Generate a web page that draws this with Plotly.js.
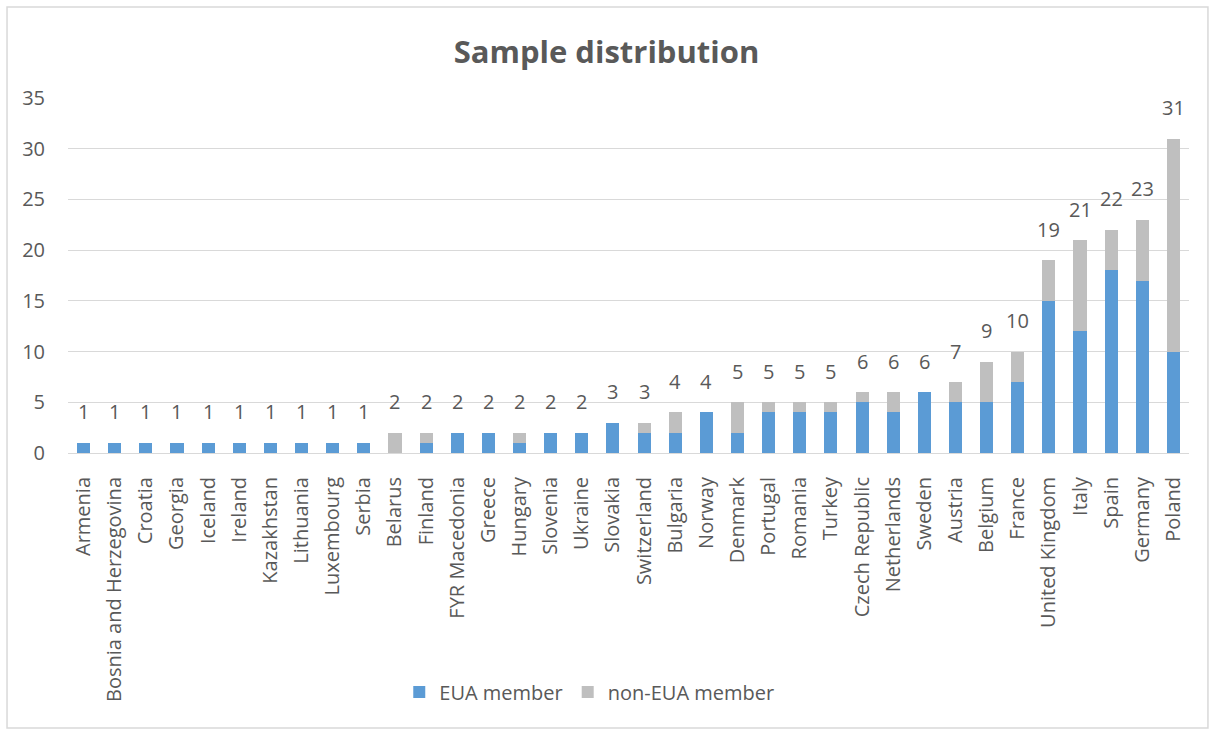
<!DOCTYPE html>
<html>
<head>
<meta charset="utf-8">
<script src="https://cdn.plot.ly/plotly-3.0.1.min.js"></script>
<style>
  html, body { margin: 0; padding: 0; background: #ffffff; }
  #chart { width: 1213px; height: 729px; }
</style>
</head>
<body>
<div id="chart"></div>
<script>
// Countries, ordered by total sample size
const countries = [
  "Armenia", "Bosnia and Herzegovina", "Croatia", "Georgia", "Iceland",
  "Ireland", "Kazakhstan", "Lithuania", "Luxembourg", "Serbia",
  "Belarus", "Finland", "FYR Macedonia", "Greece", "Hungary",
  "Slovenia", "Ukraine", "Slovakia", "Switzerland", "Bulgaria",
  "Norway", "Denmark", "Portugal", "Romania", "Turkey",
  "Czech Republic", "Netherlands", "Sweden", "Austria", "Belgium",
  "France", "United Kingdom", "Italy", "Spain", "Germany", "Poland"
];

// Respondents who are EUA members
const euaMember = [
  1, 1, 1, 1, 1, 1, 1, 1, 1, 1,
  0, 1, 2, 2, 1, 2, 2, 3, 2, 2,
  4, 2, 4, 4, 4, 5, 4, 6, 5, 5,
  7, 15, 12, 18, 17, 10
];

// Respondents who are not EUA members
const nonEuaMember = [
  0, 0, 0, 0, 0, 0, 0, 0, 0, 0,
  2, 1, 0, 0, 1, 0, 0, 0, 1, 2,
  0, 3, 1, 1, 1, 1, 2, 0, 2, 4,
  3, 4, 9, 4, 6, 21
];

// Totals shown above each stacked bar
const totals = [
  1, 1, 1, 1, 1, 1, 1, 1, 1, 1,
  2, 2, 2, 2, 2, 2, 2, 3, 3, 4,
  4, 5, 5, 5, 5, 6, 6, 6, 7, 9,
  10, 19, 21, 22, 23, 31
];

const yTicks = [0, 5, 10, 15, 20, 25, 30, 35];

const textColor = "#595959";
const fontFamily = "'Open Sans', sans-serif";
const labelSize = 20;

const traces = [
  {
    type: "bar",
    name: "EUA member",
    x: countries,
    y: euaMember,
    marker: { color: "#5B9BD5" },
    hoverinfo: "x+y+name"
  },
  {
    type: "bar",
    name: "non-EUA member",
    x: countries,
    y: nonEuaMember,
    marker: { color: "#BFBFBF" },
    hoverinfo: "x+y+name"
  }
];

// Total labels above the bars
const totalLabels = countries.map((c, i) => ({
  x: c,
  y: totals[i],
  xref: "x",
  yref: "y",
  text: String(totals[i]),
  showarrow: false,
  yanchor: "middle",
  yshift: 31,
  font: { family: fontFamily, size: labelSize, color: textColor }
}));

const layout = {
  width: 1213,
  height: 729,
  paper_bgcolor: "#ffffff",
  plot_bgcolor: "#ffffff",
  margin: { l: 68, r: 24, t: 98, b: 276 },
  font: { family: fontFamily, size: labelSize, color: textColor },
  title: {
    text: "<b>Sample distribution</b>",
    font: { family: fontFamily, size: 31, color: textColor },
    x: 0.5,
    xanchor: "center",
    y: 0.928,
    yanchor: "middle"
  },
  barmode: "stack",
  bargap: 0.58,
  showlegend: true,
  legend: {
    orientation: "h",
    x: 0.465,
    xanchor: "center",
    y: -0.673,
    yanchor: "middle",
    font: { family: fontFamily, size: labelSize, color: textColor },
    traceorder: "normal"
  },
  xaxis: {
    type: "category",
    tickangle: -90,
    showgrid: false,
    showline: true,
    linecolor: "#D9D9D9",
    linewidth: 1,
    ticks: "",
    ticklabelstandoff: 15,
    tickfont: { family: fontFamily, size: labelSize, color: textColor },
    fixedrange: true
  },
  yaxis: {
    range: [0, 35],
    tickvals: yTicks,
    ticktext: yTicks.map(String),
    showgrid: true,
    gridcolor: "#D9D9D9",
    gridwidth: 1,
    zeroline: false,
    showline: false,
    ticks: "",
    ticklabelstandoff: 22,
    tickfont: { family: fontFamily, size: labelSize, color: textColor },
    fixedrange: true
  },
  annotations: totalLabels,
  shapes: [
    {
      type: "rect",
      xref: "paper",
      yref: "paper",
      x0: -0.0544,
      x1: 1.0169,
      y0: -0.7746,
      y1: 1.2563,
      line: { color: "#D9D9D9", width: 1.5 },
      fillcolor: "rgba(0,0,0,0)",
      layer: "below"
    }
  ]
};

Plotly.newPlot("chart", traces, layout, { displayModeBar: false, staticPlot: true });
</script>
</body>
</html>
